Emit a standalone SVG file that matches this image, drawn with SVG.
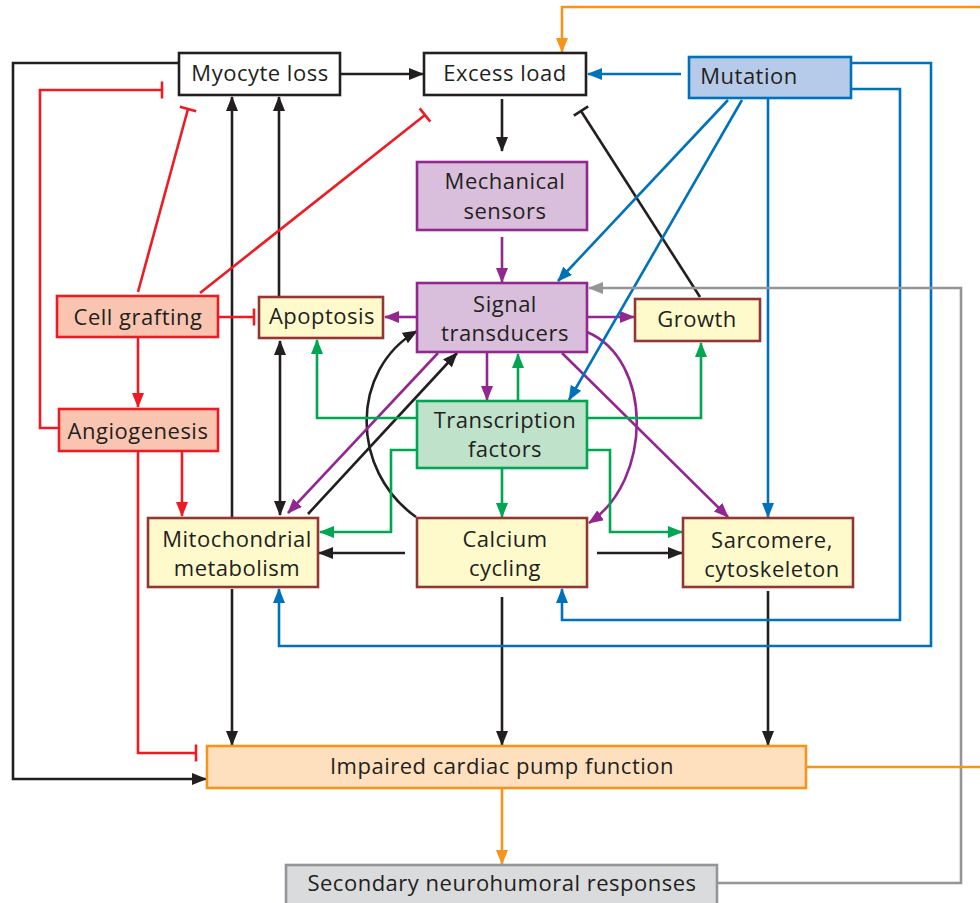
<svg xmlns="http://www.w3.org/2000/svg" width="980" height="903" viewBox="0 0 980 903">
<style>
text{font-family:"Open Sans","Noto Sans","Liberation Sans",sans-serif;font-size:22px;letter-spacing:0.5px;fill:#231f20;text-anchor:middle}
.n rect{stroke-width:2.6}
.w rect{fill:#ffffff;stroke:#231f20}
.y rect{fill:#fffacb;stroke:#943634}
.p rect{fill:#d9bfdc;stroke:#92278f}
.g rect{fill:#bfe2cb;stroke:#00a651}
.b rect{fill:#b6cbe9;stroke:#0072bc}
.r rect{fill:#f9c5b1;stroke:#ed1c24}
.o rect{fill:#fee0bf;stroke:#f7941d}
.s rect{fill:#dadbdd;stroke:#939598}
#edges path{fill:none;stroke-width:2.6}
.k{stroke:#231f20}
.pu{stroke:#92278f}
.gr{stroke:#00a651}
.bl{stroke:#0072bc}
.gy{stroke:#939598}
.or{stroke:#f7941d}
.rd{stroke:#ed1c24}
</style>
<defs>
<marker id="ak" viewBox="0 0 15 12" refX="14" refY="6" markerWidth="15" markerHeight="12" markerUnits="userSpaceOnUse" orient="auto-start-reverse"><path d="M0,0 L15,6 L0,12 z" fill="#231f20"/></marker>
<marker id="apu" viewBox="0 0 15 12" refX="14" refY="6" markerWidth="15" markerHeight="12" markerUnits="userSpaceOnUse" orient="auto"><path d="M0,0 L15,6 L0,12 z" fill="#92278f"/></marker>
<marker id="agr" viewBox="0 0 15 12" refX="14" refY="6" markerWidth="15" markerHeight="12" markerUnits="userSpaceOnUse" orient="auto"><path d="M0,0 L15,6 L0,12 z" fill="#00a651"/></marker>
<marker id="abl" viewBox="0 0 15 12" refX="14" refY="6" markerWidth="15" markerHeight="12" markerUnits="userSpaceOnUse" orient="auto"><path d="M0,0 L15,6 L0,12 z" fill="#0072bc"/></marker>
<marker id="agy" viewBox="0 0 15 12" refX="14" refY="6" markerWidth="15" markerHeight="12" markerUnits="userSpaceOnUse" orient="auto"><path d="M0,0 L15,6 L0,12 z" fill="#939598"/></marker>
<marker id="aor" viewBox="0 0 15 12" refX="14" refY="6" markerWidth="15" markerHeight="12" markerUnits="userSpaceOnUse" orient="auto"><path d="M0,0 L15,6 L0,12 z" fill="#f7941d"/></marker>
<marker id="ard" viewBox="0 0 15 12" refX="14" refY="6" markerWidth="15" markerHeight="12" markerUnits="userSpaceOnUse" orient="auto"><path d="M0,0 L15,6 L0,12 z" fill="#ed1c24"/></marker>
<marker id="tk" viewBox="-2 -10 4 20" refX="0" refY="0" markerWidth="4" markerHeight="20" markerUnits="userSpaceOnUse" orient="auto"><path d="M0,-8.5 L0,8.5" stroke="#231f20" stroke-width="2.6"/></marker>
<marker id="trd" viewBox="-2 -10 4 20" refX="0" refY="0" markerWidth="4" markerHeight="20" markerUnits="userSpaceOnUse" orient="auto"><path d="M0,-8.5 L0,8.5" stroke="#ed1c24" stroke-width="2.6"/></marker>
</defs>

<g id="edges">
<!-- black -->
<path class="k" d="M181,63 H13 V779 H206" marker-end="url(#ak)"/>
<path class="k" d="M340,74 H423" marker-end="url(#ak)"/>
<path class="k" d="M502,99 V151" marker-end="url(#ak)"/>
<path class="k" d="M700,297 L581,111" marker-end="url(#tk)"/>
<path class="k" d="M280,341 V515" marker-start="url(#ak)" marker-end="url(#ak)"/>
<path class="k" d="M232,518 V97" marker-end="url(#ak)"/>
<path class="k" d="M279,297 V97" marker-end="url(#ak)"/>
<path class="k" d="M232,589 V745" marker-end="url(#ak)"/>
<path class="k" d="M308,514 L457,353" marker-end="url(#ak)"/>
<path class="k" d="M416,517 C350,470 350,370 417,331" marker-end="url(#ak)"/>
<path class="k" d="M405,553 H319" marker-end="url(#ak)"/>
<path class="k" d="M597,553 H682" marker-end="url(#ak)"/>
<path class="k" d="M502,597 V745" marker-end="url(#ak)"/>
<path class="k" d="M768,591 V745" marker-end="url(#ak)"/>
<!-- purple -->
<path class="pu" d="M502,237 V282" marker-end="url(#apu)"/>
<path class="pu" d="M417,317 H385" marker-end="url(#apu)"/>
<path class="pu" d="M587,317 H634" marker-end="url(#apu)"/>
<path class="pu" d="M487,352 V400" marker-end="url(#apu)"/>
<path class="pu" d="M438,353 L288,513" marker-end="url(#apu)"/>
<path class="pu" d="M562,353 L728,517" marker-end="url(#apu)"/>
<path class="pu" d="M587,332 C653,360 653,480 589,523" marker-end="url(#apu)"/>
<!-- green -->
<path class="gr" d="M518,401 V354" marker-end="url(#agr)"/>
<path class="gr" d="M417,418 H317 V340" marker-end="url(#agr)"/>
<path class="gr" d="M587,418 H701 V343" marker-end="url(#agr)"/>
<path class="gr" d="M417,450 H391 V532 H320" marker-end="url(#agr)"/>
<path class="gr" d="M502,468 V517" marker-end="url(#agr)"/>
<path class="gr" d="M587,450 H610 V532 H682" marker-end="url(#agr)"/>
<!-- blue -->
<path class="bl" d="M681,74 H588" marker-end="url(#abl)"/>
<path class="bl" d="M728,100 L558,281" marker-end="url(#abl)"/>
<path class="bl" d="M742,100 L569,400" marker-end="url(#abl)"/>
<path class="bl" d="M768,98 V517" marker-end="url(#abl)"/>
<path class="bl" d="M851,89 H900 V620 H562 V589" marker-end="url(#abl)"/>
<path class="bl" d="M851,63 H931 V646 H279 V589" marker-end="url(#abl)"/>
<!-- gray -->
<path class="gy" d="M717,883 H961 V288 H589" marker-end="url(#agy)"/>
<!-- orange -->
<path class="or" d="M502,788 V864" marker-end="url(#aor)"/>
<path class="or" d="M806,767 H980"/>
<path class="or" d="M980,7 H562 V52" marker-end="url(#aor)"/>
<!-- red -->
<path class="rd" d="M138,292 L188,109" marker-end="url(#trd)"/>
<path class="rd" d="M200,293 L425,115" marker-end="url(#trd)"/>
<path class="rd" d="M59,428 H40 V90 H162" marker-end="url(#trd)"/>
<path class="rd" d="M218,317 H254" marker-end="url(#trd)"/>
<path class="rd" d="M138,337 V407" marker-end="url(#ard)"/>
<path class="rd" d="M182,451 V516" marker-end="url(#ard)"/>
<path class="rd" d="M138,451 V753 H196" marker-end="url(#trd)"/>
</g>

<g id="myocyte-loss" class="n w"><rect x="179" y="53" width="161" height="42"/><text x="260" y="81">Myocyte loss</text></g>
<g id="excess-load" class="n w"><rect x="424" y="53" width="162" height="42"/><text x="505" y="81">Excess load</text></g>
<g id="mutation" class="n b"><rect x="689" y="57" width="162" height="41"/><text x="749" y="84">Mutation</text></g>
<g id="mechanical-sensors" class="n p"><rect x="417" y="162" width="170" height="68"/><text x="505" y="189">Mechanical</text><text x="505" y="219">sensors</text></g>
<g id="signal-transducers" class="n p"><rect x="417" y="283" width="170" height="69"/><text x="505" y="312">Signal</text><text x="505" y="341">transducers</text></g>
<g id="transcription-factors" class="n g"><rect x="417" y="401" width="170" height="67"/><text x="505" y="428">Transcription</text><text x="505" y="457">factors</text></g>
<g id="calcium-cycling" class="n y"><rect x="417" y="518" width="170" height="69"/><text x="505" y="547">Calcium</text><text x="505" y="576">cycling</text></g>
<g id="mitochondrial-metabolism" class="n y"><rect x="148" y="518" width="170" height="69"/><text x="237" y="547">Mitochondrial</text><text x="237" y="576">metabolism</text></g>
<g id="sarcomere-cytoskeleton" class="n y"><rect x="683" y="518" width="170" height="69"/><text x="772" y="548">Sarcomere,</text><text x="772" y="577">cytoskeleton</text></g>
<g id="apoptosis" class="n y"><rect x="259" y="297" width="124" height="41"/><text x="322" y="324">Apoptosis</text></g>
<g id="growth" class="n y"><rect x="635" y="299" width="125" height="42"/><text x="697" y="327">Growth</text></g>
<g id="cell-grafting" class="n r"><rect x="57" y="296" width="161" height="41"/><text x="138" y="325">Cell grafting</text></g>
<g id="angiogenesis" class="n r"><rect x="59" y="409" width="159" height="42"/><text x="138" y="439">Angiogenesis</text></g>
<g id="impaired-pump" class="n o"><rect x="207" y="746" width="599" height="42"/><text x="502" y="774">Impaired cardiac pump function</text></g>
<g id="secondary-neurohumoral" class="n s"><rect x="286" y="865" width="431" height="40"/><text x="502" y="891">Secondary neurohumoral responses</text></g>
</svg>
